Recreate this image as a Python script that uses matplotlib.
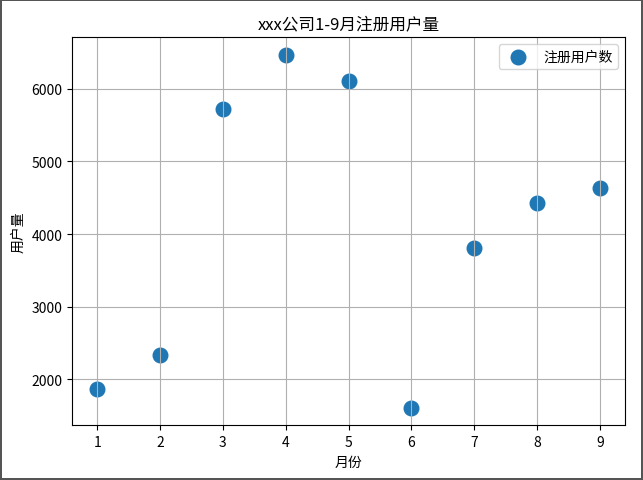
import matplotlib
matplotlib.use('Agg')
import matplotlib.pyplot as plt

plt.rcParams['font.family'] = ['Noto Sans CJK SC', 'DejaVu Sans']
plt.rcParams['axes.unicode_minus'] = False

# 1-9月注册用户数
months = [1, 2, 3, 4, 5, 6, 7, 8, 9]
users = [1862, 2331, 5717, 6469, 6110, 1614, 3807, 4428, 4634]

fig = plt.figure(figsize=(6.43, 4.81), dpi=100, edgecolor='#555555', linewidth=1.5)
ax = fig.add_subplot(111)
fig.subplots_adjust(left=0.112, right=0.972, top=0.921, bottom=0.114)

ax.scatter(months, users, s=110, color='#1f77b4', label='注册用户数')
ax.set_title('xxx公司1-9月注册用户量')
ax.set_xlabel('月份')
ax.set_ylabel('用户量')
ax.set_xticks(months)
ax.grid(True)
ax.legend(loc='upper right')

fig.savefig('out.png', dpi=100, edgecolor=fig.get_edgecolor())
